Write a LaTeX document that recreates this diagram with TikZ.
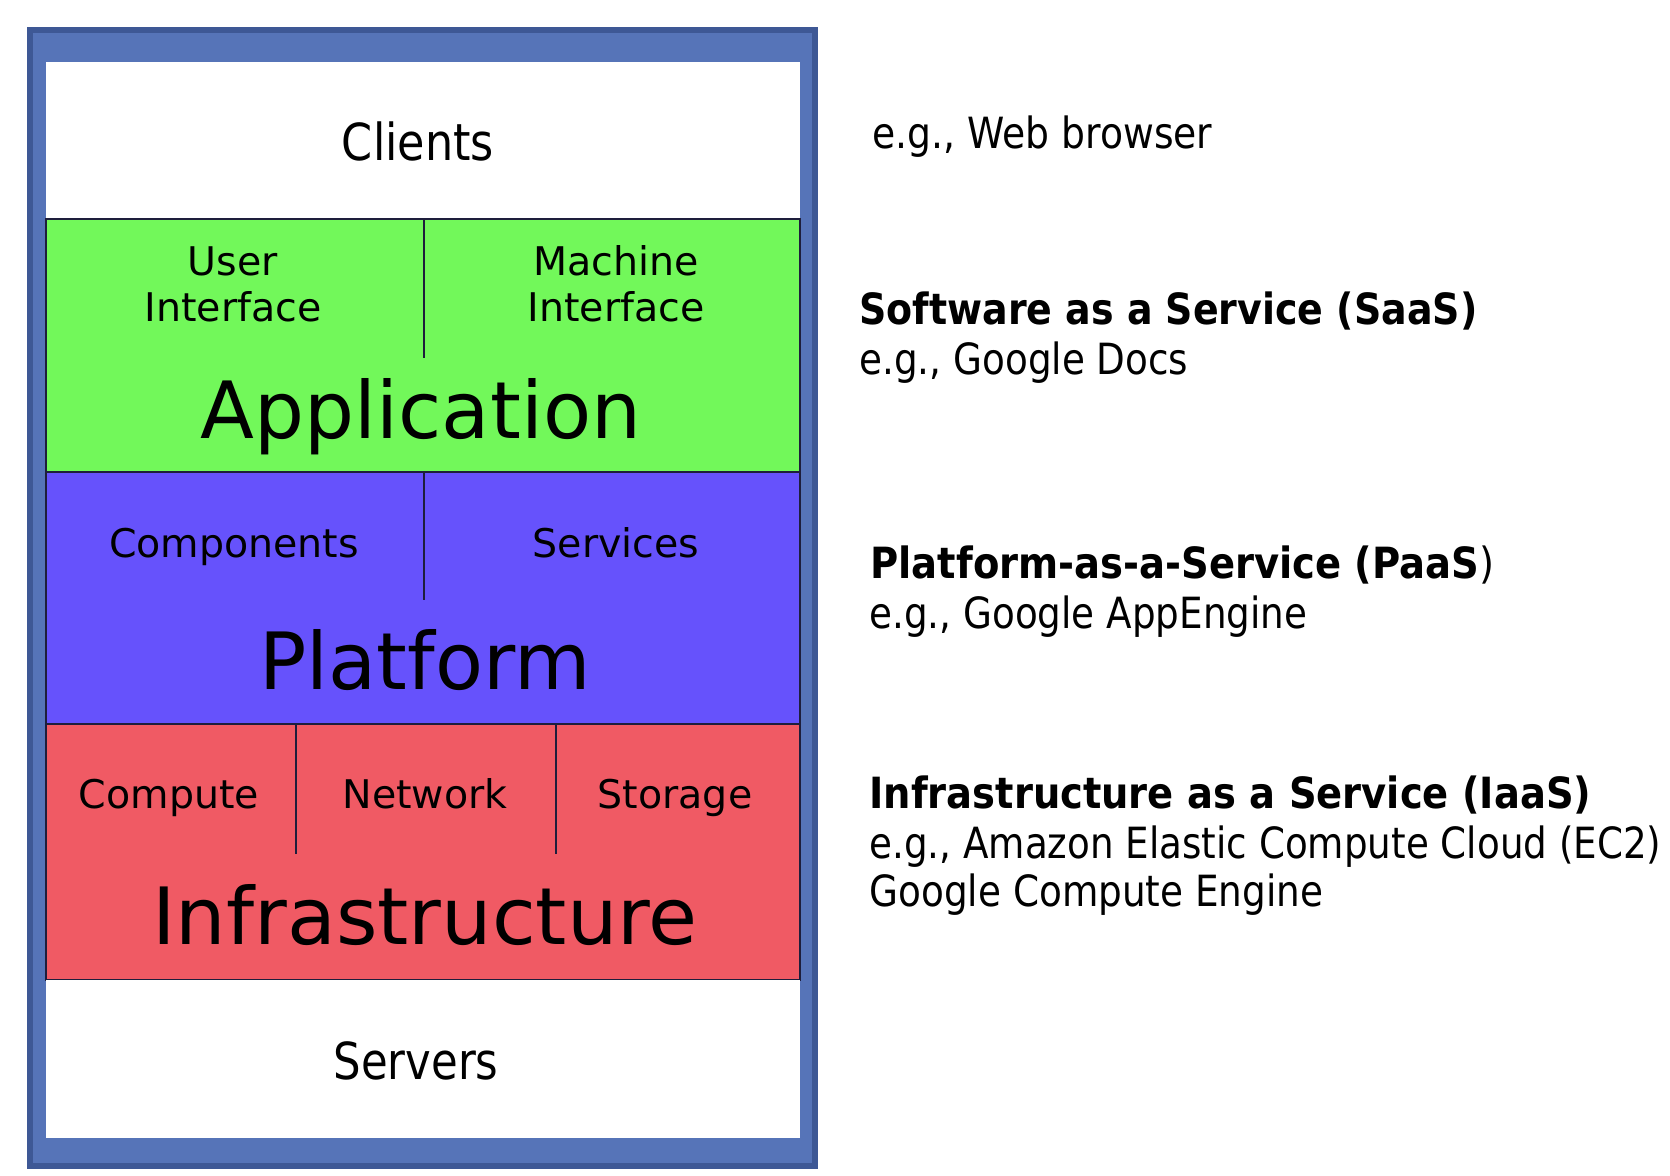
\documentclass[tikz,border=0pt]{standalone}
\usepackage{fontspec}
\setmainfont{DejaVu Sans}
\usepackage{graphicx}
\definecolor{framefill}{HTML}{5674B8}
\definecolor{frameedge}{HTML}{3E5895}
\definecolor{appgreen}{HTML}{72F85A}
\definecolor{platblue}{HTML}{6652FC}
\definecolor{infrared}{HTML}{F05A64}
\definecolor{rulecol}{HTML}{1E1E3C}
\newcommand\hfit[2]{\resizebox{#1}{\height}{#2}}
\frenchspacing
\begin{document}
\begin{tikzpicture}[x=0.5pt,y=-0.5pt,
  lbl/.style={inner sep=0pt, anchor=base},
  big/.style={lbl, font=\fontsize{39.5pt}{40pt}\selectfont},
  mid/.style={lbl, font=\fontsize{19.75pt}{20pt}\selectfont},
  edgelbl/.style={lbl, font=\fontsize{25.5pt}{26pt}\selectfont},
  side/.style={inner sep=0pt, anchor=base west, font=\fontsize{21.5pt}{22pt}\selectfont},
  sidebold/.style={side, font=\fontsize{21.5pt}{22pt}\selectfont\bfseries},
  layer/.style={draw=rulecol, line width=1pt},
  divider/.style={draw=rulecol, line width=1pt}]
\useasboundingbox (0,0) rectangle (1670,1175);
\fill[white] (0,0) rectangle (1670,1175);
% outer frame
\draw[fill=framefill, draw=frameedge, line width=3pt] (30,30) rectangle (815,1166);
% layers
\fill[white] (46,62) rectangle (800,219);
\path[layer, fill=appgreen] (46,219) rectangle (800,472);
\path[layer, fill=platblue] (46,472) rectangle (800,724);
\path[layer, fill=infrared] (46,724) rectangle (800,980);
\fill[white] (46,980) rectangle (800,1138);
% dividers
\draw[divider] (424,219) -- (424,358);
\draw[divider] (424,472) -- (424,600);
\draw[divider] (296,724) -- (296,854);
\draw[divider] (556,724) -- (556,854);
% left labels
\node[edgelbl] (clients) at (418,160) {\hfit{76pt}{Clients}};
\node[mid] (user) at (233,275) {User};
\node[mid] (ui) at (233,321) {Interface};
\node[mid] (machine) at (616,275) {Machine};
\node[mid] (mi) at (616,321) {Interface};
\node[big] (app) at (421,438) {\hfit{220pt}{Application}};
\node[mid] (comp) at (234,557) {Components};
\node[mid] (serv) at (616,557) {Services};
\node[big] (plat) at (425,689) {\hfit{165.5pt}{Platform}};
\node[mid] (compute) at (169,808) {Compute};
\node[mid] (net) at (425,808) {Network};
\node[mid] (stor) at (675,808) {Storage};
\node[big] (infra) at (425,944) {\hfit{272.5pt}{Infrastructure}};
\node[edgelbl] (servers) at (416,1079) {\hfit{82.5pt}{Servers}};
% right labels
\node[side] (web) at (872,148) {\hfit{170pt}{e.g., Web browser}};
\node[sidebold] (saas) at (859,324) {\hfit{309pt}{Software as a Service (SaaS)}};
\node[side] (docs) at (859,374) {\hfit{164.5pt}{e.g., Google Docs}};
\node[side] (paas) at (870,578) {\hfit{312pt}{{\bfseries Platform-as-a-Service (PaaS}\mdseries)}};
\node[side] (appeng) at (869,628) {\hfit{219pt}{e.g., Google AppEngine}};
\node[sidebold] (iaas) at (869,808) {\hfit{361pt}{Infrastructure as a Service (IaaS)}};
\node[side] (ec2) at (869,858) {\hfit{396pt}{e.g., Amazon Elastic Compute Cloud (EC2)}};
\node[side] (gce) at (869,906) {\hfit{227pt}{Google Compute Engine}};
\end{tikzpicture}
\end{document}
